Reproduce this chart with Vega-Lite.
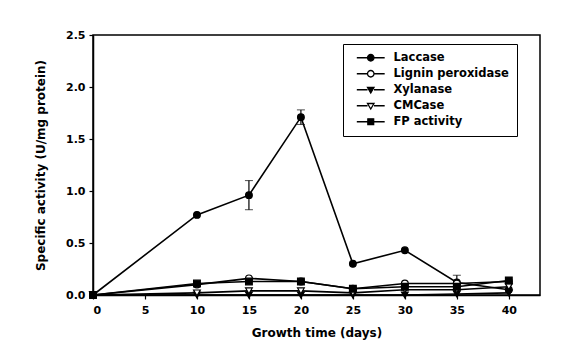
{
  "$schema": "https://vega.github.io/schema/vega-lite/v6.json",
  "width": 447,
  "height": 260,
  "autosize": {"type": "none"},
  "padding": {"left": 93, "top": 35, "right": 29, "bottom": 52},
  "background": "white",
  "config": {
    "font": "DejaVu Sans",
    "view": {"stroke": "black", "strokeWidth": 1.5},
    "axis": {
      "grid": false,
      "domainColor": "black",
      "domainWidth": 1.5,
      "tickColor": "black",
      "tickWidth": 1.2,
      "tickSize": 4,
      "labelFont": "DejaVu Sans",
      "labelFontWeight": "bold",
      "labelFontSize": 11,
      "labelColor": "black",
      "titleFont": "DejaVu Sans",
      "titleFontWeight": "bold",
      "titleFontSize": 12,
      "titleColor": "black"
    }
  },
  "datasets": {
    "activity": [
      {"enzyme": "Laccase", "day": 0, "value": 0},
      {"enzyme": "Laccase", "day": 10, "value": 0.77},
      {"enzyme": "Laccase", "day": 15, "value": 0.96},
      {"enzyme": "Laccase", "day": 20, "value": 1.71},
      {"enzyme": "Laccase", "day": 25, "value": 0.30},
      {"enzyme": "Laccase", "day": 30, "value": 0.43},
      {"enzyme": "Laccase", "day": 35, "value": 0.12},
      {"enzyme": "Laccase", "day": 40, "value": 0.05},
      {"enzyme": "Lignin peroxidase", "day": 0, "value": 0},
      {"enzyme": "Lignin peroxidase", "day": 10, "value": 0.10},
      {"enzyme": "Lignin peroxidase", "day": 15, "value": 0.16},
      {"enzyme": "Lignin peroxidase", "day": 20, "value": 0.13},
      {"enzyme": "Lignin peroxidase", "day": 25, "value": 0.06},
      {"enzyme": "Lignin peroxidase", "day": 30, "value": 0.11},
      {"enzyme": "Lignin peroxidase", "day": 35, "value": 0.11},
      {"enzyme": "Lignin peroxidase", "day": 40, "value": 0.13},
      {"enzyme": "Xylanase", "day": 0, "value": 0},
      {"enzyme": "Xylanase", "day": 10, "value": 0.0},
      {"enzyme": "Xylanase", "day": 15, "value": 0.0},
      {"enzyme": "Xylanase", "day": 20, "value": 0.0},
      {"enzyme": "Xylanase", "day": 25, "value": 0.0},
      {"enzyme": "Xylanase", "day": 30, "value": 0.0},
      {"enzyme": "Xylanase", "day": 35, "value": 0.01},
      {"enzyme": "Xylanase", "day": 40, "value": 0.02},
      {"enzyme": "CMCase", "day": 0, "value": 0},
      {"enzyme": "CMCase", "day": 10, "value": 0.02},
      {"enzyme": "CMCase", "day": 15, "value": 0.04},
      {"enzyme": "CMCase", "day": 20, "value": 0.04},
      {"enzyme": "CMCase", "day": 25, "value": 0.02},
      {"enzyme": "CMCase", "day": 30, "value": 0.05},
      {"enzyme": "CMCase", "day": 35, "value": 0.05},
      {"enzyme": "CMCase", "day": 40, "value": 0.08},
      {"enzyme": "FP activity", "day": 0, "value": 0},
      {"enzyme": "FP activity", "day": 10, "value": 0.11},
      {"enzyme": "FP activity", "day": 15, "value": 0.13},
      {"enzyme": "FP activity", "day": 20, "value": 0.13},
      {"enzyme": "FP activity", "day": 25, "value": 0.06},
      {"enzyme": "FP activity", "day": 30, "value": 0.08},
      {"enzyme": "FP activity", "day": 35, "value": 0.08},
      {"enzyme": "FP activity", "day": 40, "value": 0.14}
    ],
    "errors": [
      {"enzyme": "Laccase", "day": 15, "lo": 0.82, "hi": 1.10},
      {"enzyme": "Laccase", "day": 20, "lo": 1.64, "hi": 1.78},
      {"enzyme": "Lignin peroxidase", "day": 35, "lo": 0.05, "hi": 0.19}
    ]
  },
  "encoding": {
    "x": {
      "field": "day",
      "type": "quantitative",
      "scale": {"domain": [0, 43], "nice": false},
      "axis": {"values": [0, 5, 10, 15, 20, 25, 30, 35, 40], "title": "Growth time (days)", "labelPadding": 5, "titlePadding": 12}
    }
  },
  "resolve": {"scale": {"shape": "independent"}},
  "layer": [
    {
      "data": {"name": "errors"},
      "mark": {"type": "errorbar", "ticks": {"size": 8, "color": "black", "strokeWidth": 1.2}, "rule": {"color": "black", "strokeWidth": 1.2}},
      "encoding": {
        "y": {"field": "lo", "type": "quantitative", "title": "Specific activity (U/mg protein)"},
        "y2": {"field": "hi"}
      }
    },
    {
      "data": {"name": "activity"},
      "mark": {"type": "line", "color": "black", "strokeWidth": 1.6},
      "encoding": {
        "y": {
          "field": "value",
          "type": "quantitative",
          "title": "Specific activity (U/mg protein)",
          "scale": {"domain": [0, 2.5], "nice": false},
          "axis": {"values": [0, 0.5, 1, 1.5, 2, 2.5], "format": ".1f", "labelPadding": 4, "titlePadding": 18}
        },
        "detail": {"field": "enzyme"}
      }
    },
    {
      "data": {"name": "activity"},
      "mark": {"type": "point", "size": 45, "stroke": "black", "strokeWidth": 1.2, "opacity": 1},
      "encoding": {
        "y": {"field": "value", "type": "quantitative", "title": "Specific activity (U/mg protein)"},
        "shape": {
          "field": "enzyme",
          "type": "nominal",
          "scale": {
            "domain": ["Laccase", "Lignin peroxidase", "Xylanase", "CMCase", "FP activity"],
            "range": ["circle", "circle", "triangle-down", "triangle-down", "square"]
          },
          "legend": null
        },
        "fill": {
          "field": "enzyme",
          "type": "nominal",
          "scale": {
            "domain": ["Laccase", "Lignin peroxidase", "Xylanase", "CMCase", "FP activity"],
            "range": ["black", "white", "black", "white", "black"]
          },
          "legend": null
        }
      }
    },
    {
      "data": {"name": "activity"},
      "transform": [{"filter": "datum.day < 0"}],
      "mark": {"type": "point", "size": 45, "stroke": "black", "strokeWidth": 1.2, "opacity": 1},
      "encoding": {
        "y": {"field": "value", "type": "quantitative", "title": "Specific activity (U/mg protein)"},
        "shape": {
          "field": "enzyme",
          "type": "nominal",
          "scale": {
            "domain": ["Laccase", "Lignin peroxidase", "Xylanase", "CMCase", "FP activity"],
            "range": [
              "M-4.3,0H-1M1,0H4.3M-1,0A1,1,0,1,1,1,0A1,1,0,1,1,-1,0Z",
              "M-4.3,0H-1M1,0H4.3M-1,0A1,1,0,1,1,1,0A1,1,0,1,1,-1,0Z",
              "M-4.3,0H-1M1,0H4.3M-1,-0.7H1L0,1Z",
              "M-4.3,0H-1M1,0H4.3M-1,-0.7H1L0,1Z",
              "M-4.3,0H-0.9M0.9,0H4.3M-0.9,-0.9H0.9V0.9H-0.9Z"
            ]
          },
          "legend": {
            "title": null,
            "orient": "none",
            "legendX": 250,
            "legendY": 9,
            "padding": 8,
            "strokeColor": "black",
            "fillColor": "white",
            "symbolSize": 42,
            "symbolStrokeColor": "black",
            "symbolStrokeWidth": 1.3,
            "symbolOffset": 14,
            "labelOffset": 17,
            "labelFont": "DejaVu Sans",
            "labelFontWeight": "bold",
            "labelFontSize": 11.5,
            "labelColor": "black",
            "rowPadding": 3,
            "labelExpr": "datum.label + '\u00a0\u00a0\u00a0\u00a0\u00a0'",
            "encoding": {
              "symbols": {
                "stroke": {"value": "black"},
                "strokeWidth": {"value": 1.3},
                "fill": {"value": {"expr": "datum.value === 'Lignin peroxidase' || datum.value === 'CMCase' ? 'white' : 'black'"}}
              }
            }
          }
        }
      }
    }
  ]
}
